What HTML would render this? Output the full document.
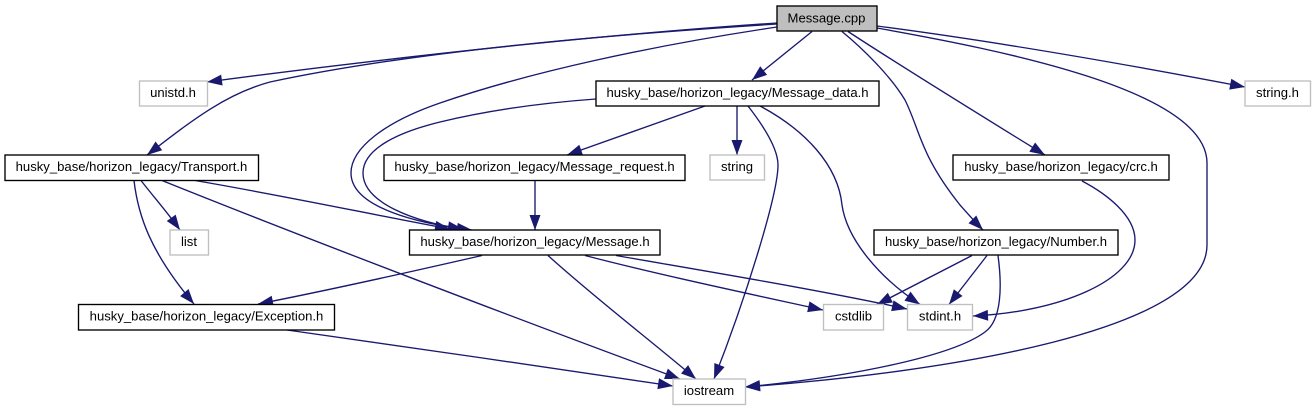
<!DOCTYPE html>
<html><head><meta charset="utf-8"><style>
html,body{margin:0;padding:0;background:#fff;width:1315px;height:411px;overflow:hidden}
svg{display:block}
text{font-family:"Liberation Sans",Arial,sans-serif;font-size:13.1px;fill:#000;text-anchor:middle}
.e path{fill:none;stroke:#191970;stroke-width:1.35;marker-end:url(#a)}
.k{fill:#fff;stroke:#000;stroke-width:1.35}
.g{fill:#fff;stroke:#bfbfbf;stroke-width:1.35}
</style></head><body>
<svg width="1315" height="411" viewBox="0 0 1315 411" xmlns="http://www.w3.org/2000/svg">
<defs><marker id="a" markerUnits="userSpaceOnUse" markerWidth="16" markerHeight="13" refX="15" refY="6" orient="auto" overflow="visible"><path d="M0,0.500 L15,6 L0,11.500 Z" fill="#191970"/></marker></defs>
<g class="e">
<path d="M777,23 C640,32 440,51 207,82"/>
<path d="M777,24 C620,34 420,50 270,82 C225,94 190,122 147,155"/>
<path d="M777,27 C650,46 530,72 440,103 C385,122 351,148 351,173 C351,208 420,224 472,230"/>
<path d="M596,99 C540,103 490,110 440,122 C395,133 363,150 363,173 C363,203 415,222 463,229"/>
<path d="M195,180.500 C280,195 370,214 450,229"/>
<path d="M162,180.500 C300,236 520,320 680,379"/>
<path d="M141,180.500 C153,196 167,212 180,230"/>
<path d="M134,180.500 C138,215 150,252 194,304"/>
<path d="M482,255.500 C410,272 330,290 258,304"/>
<path d="M287,330 C410,348 550,367 673,386"/>
<path d="M548,255.500 C595,298 650,340 696,379"/>
<path d="M585,255.500 C660,275 750,294 823,310"/>
<path d="M616,255.500 C710,272 820,290 907,309"/>
<path d="M535,180.500 L535,230"/>
<path d="M705,106 L567,155"/>
<path d="M737,106 L737,155"/>
<path d="M748,106 C762,124 778,148 778,165 C778,195 745,300 714,379"/>
<path d="M760,106 C805,130 838,165 842,205 C847,240 880,278 920,304.500"/>
<path d="M972,255.500 L877,304.500"/>
<path d="M987,255.500 L949,304.500"/>
<path d="M998,255.500 C1002,285 1002,320 985,332 C950,358 840,378 745,387"/>
<path d="M1082,181 C1105,193 1135,215 1135,240 C1135,280 1060,312 973,316"/>
<path d="M877,28 C1000,50 1207,90 1207,163 L1207,245 C1207,330 950,372 745,387"/>
<path d="M877,26 C1000,42 1130,65 1245,87"/>
<path d="M848,31.500 C910,72 985,118 1045,155"/>
<path d="M842,31.500 C862,48 890,75 905,100 C920,130 920,155 960,205 C968,214 975,222 983,230"/>
<path d="M812,31.500 L752,80"/>
</g>
<rect x="777" y="6" width="100" height="25" fill="#bfbfbf" stroke="#000" stroke-width="1.35"/>
<text x="826.500" y="22.500">Message.cpp</text>
<rect class="g" x="139.500" y="81" width="68" height="25"/><text x="173" y="97">unistd.h</text>
<rect class="k" x="5" y="155" width="253.500" height="25.500"/><text x="131.500" y="171">husky_base/horizon_legacy/Transport.h</text>
<rect class="k" x="596" y="81" width="283" height="25"/><text x="737.500" y="97">husky_base/horizon_legacy/Message_data.h</text>
<rect class="k" x="384" y="155" width="301" height="25.500"/><text x="534.500" y="171">husky_base/horizon_legacy/Message_request.h</text>
<rect class="g" x="710" y="155" width="54.500" height="25"/><text x="737" y="171">string</text>
<rect class="g" x="1245" y="81" width="65.500" height="25"/><text x="1277.500" y="97">string.h</text>
<rect class="k" x="953" y="155" width="216" height="25"/><text x="1061" y="171">husky_base/horizon_legacy/crc.h</text>
<rect class="g" x="170" y="230" width="38.500" height="25"/><text x="189" y="246">list</text>
<rect class="k" x="409.500" y="230" width="250.500" height="25"/><text x="535" y="246">husky_base/horizon_legacy/Message.h</text>
<rect class="k" x="874" y="230" width="244" height="25"/><text x="996" y="246">husky_base/horizon_legacy/Number.h</text>
<rect class="k" x="78.500" y="304.500" width="256" height="25.500"/><text x="206.500" y="320.500">husky_base/horizon_legacy/Exception.h</text>
<rect class="g" x="823.500" y="304.500" width="60" height="25.500"/><text x="853.500" y="320.500">cstdlib</text>
<rect class="g" x="907.500" y="304.500" width="65" height="25.500"/><text x="940" y="320.500">stdint.h</text>
<rect class="g" x="673" y="379" width="72.500" height="25.500"/><text x="709" y="395">iostream</text>
</svg>
</body></html>
